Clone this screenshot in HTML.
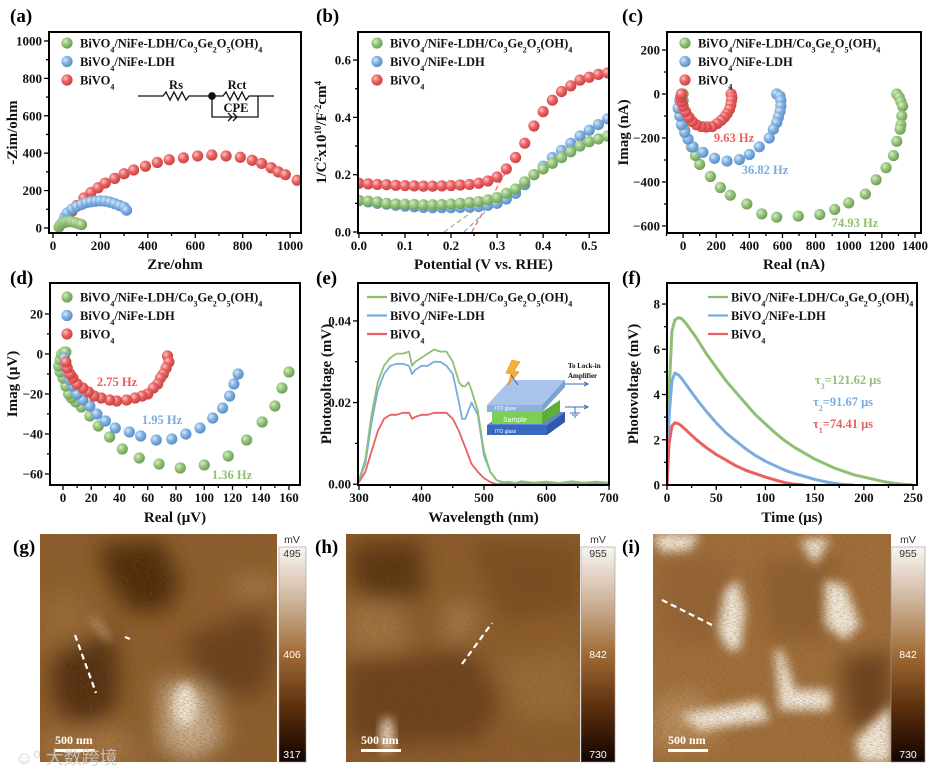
<!DOCTYPE html>
<html><head><meta charset="utf-8">
<style>
html,body{margin:0;padding:0;background:#fff;}
body{width:939px;height:773px;overflow:hidden;}
svg{display:block;font-family:"Liberation Serif",serif;}
.tk{font-size:13px;font-weight:bold;fill:#111;}
.ax{font-size:15px;font-weight:bold;fill:#111;}
.lg{font-size:12.5px;font-weight:bold;fill:#111;}
.pl{font-size:19px;font-weight:bold;fill:#000;}
.cb{font-family:"Liberation Sans",sans-serif;font-size:10.5px;}
</style></head>
<body>
<svg id="fig" width="939" height="773" viewBox="0 0 939 773">
<defs>
 <radialGradient id="gG" cx="35%" cy="35%" r="65%"><stop offset="0" stop-color="#d4ecc4"/><stop offset="0.5" stop-color="#97c47c"/><stop offset="1" stop-color="#6f9f58"/></radialGradient>
 <radialGradient id="gB" cx="35%" cy="35%" r="65%"><stop offset="0" stop-color="#d6e8fa"/><stop offset="0.5" stop-color="#82b2e2"/><stop offset="1" stop-color="#5b8fc6"/></radialGradient>
 <radialGradient id="gR" cx="35%" cy="35%" r="65%"><stop offset="0" stop-color="#fbc4c4"/><stop offset="0.5" stop-color="#ec6262"/><stop offset="1" stop-color="#c94444"/></radialGradient>
 <linearGradient id="cbar" x1="0" y1="0" x2="0" y2="1"><stop offset="0" stop-color="#f8f6f3"/><stop offset="0.25" stop-color="#cfb49a"/><stop offset="0.5" stop-color="#a06a34"/><stop offset="0.75" stop-color="#5a2e0c"/><stop offset="1" stop-color="#120300"/></linearGradient>
 <filter id="blur6" x="-30%" y="-30%" width="160%" height="160%"><feGaussianBlur stdDeviation="11"/></filter>
 <filter id="blur3" x="-30%" y="-30%" width="160%" height="160%"><feGaussianBlur stdDeviation="5"/></filter>
 <filter id="noise" x="0" y="0" width="100%" height="100%"><feTurbulence type="fractalNoise" baseFrequency="0.3 1.4" numOctaves="2" seed="4"/><feColorMatrix type="matrix" values="0 0 0 0 0.2  0 0 0 0 0.1  0 0 0 0 0  2.6 0 0 0 -1.1"/></filter>
 <clipPath id="cg"><rect x="40" y="534" width="237" height="228"/></clipPath>
 <clipPath id="ch"><rect x="346" y="534" width="234" height="228"/></clipPath>
 <clipPath id="ci"><rect x="653" y="534" width="238" height="228"/></clipPath>
</defs>
<g id="charts"></g>

<!-- circuit inset (a) -->
<g fill="none" stroke="#111" stroke-width="1.3">
 <path d="M138 96 H163 l3 -4 l4 8 l4 -8 l4 8 l4 -8 l4 8 l3 -4 H212 H223 l3 -4 l4 8 l4 -8 l4 8 l4 -8 l4 8 l3 -4 H274"/>
 <path d="M212 96 V117 H258 V96"/>
 <path d="M228 113 l4 4 l-4 4 M233 113 l4 4 l-4 4"/>
 <circle cx="212" cy="96" r="3.2" fill="#111"/>
 <text x="176" y="89" text-anchor="middle" class="lg" stroke="none" fill="#111" font-size="13">Rs</text>
 <text x="237" y="89" text-anchor="middle" class="lg" stroke="none" fill="#111" font-size="13">Rct</text>
 <text x="236" y="112" text-anchor="middle" class="lg" stroke="none" fill="#111" font-size="13">CPE</text>
</g>

<!-- SPV inset (e) -->
<g>
 <polygon points="487,425 505,412 565,412 547,425" fill="#5f86cf"/>
 <polygon points="487,425 547,425 547,435 487,435" fill="#3a68c0"/>
 <polygon points="547,425 565,412 565,422 547,435" fill="#2f58a8"/>
 <text x="495" y="433" font-family="Liberation Sans,sans-serif" font-size="5" fill="#fff">ITO glass</text>
 <polygon points="492,412 542,412 542,424 492,424" fill="#7ccf55"/>
 <polygon points="542,412 560,400 560,412 542,424" fill="#5fae3c"/>
 <text x="503" y="422" font-family="Liberation Sans,sans-serif" font-size="7" fill="#fff">Sample</text>
 <polygon points="487,405 510,380 565,380 542,405" fill="#9ab8e6" opacity="0.85"/>
 <polygon points="487,405 542,405 542,412 487,412" fill="#7ea8d8" opacity="0.9"/>
 <polygon points="542,405 565,380 565,387 542,412" fill="#6f96cc" opacity="0.9"/>
 <text x="495" y="410" font-family="Liberation Sans,sans-serif" font-size="5" fill="#fff">ITO glass</text>
 <polygon points="512,360 520,362 514,371 519,372 508,385 511,374 506,373" fill="#f4b13a" stroke="#e08a1a" stroke-width="0.6"/>
 <line x1="511" y1="375" x2="518" y2="385" stroke="#3a68c0" stroke-width="1"/>
 <path d="M565 384 H588 M584 382 L588 384 L584 386" stroke="#3a68c0" stroke-width="1" fill="none"/>
 <path d="M565 407 H588 M584 405 L588 407 L584 409 M575 407 V413 M570 413 H580 M572 415 H578 M574 417 H576" stroke="#3a68c0" stroke-width="1" fill="none"/>
 <text x="568" y="368" font-size="7" font-weight="bold" fill="#111">To Lock-in</text>
 <text x="568" y="378" font-size="7" font-weight="bold" fill="#111">Amplifier</text>
</g>

<!-- AFM (g) -->
<g>
 <g clip-path="url(#cg)">
  <rect x="40" y="534" width="237" height="228" fill="#8e5e33"/>
  <g filter="url(#blur6)">
   <polygon points="98,545 160,540 180,580 170,610 130,612 108,580" fill="#4e2c10"/>
   <polygon points="58,640 112,628 120,680 110,720 70,725 50,690" fill="#532f12"/>
   <polygon points="180,640 260,610 277,650 260,700 210,690" fill="#6a4020"/>
   <polygon points="40,600 80,590 95,640 40,650" fill="#9a6a3c"/>
   <polygon points="160,680 210,690 225,740 190,762 160,745" fill="#c9ad92"/>
   <polygon points="40,735 120,725 150,762 40,762" fill="#a57448"/>
   <rect x="235" y="580" width="40" height="12" fill="#b88c62"/>
  </g>
  <g filter="url(#blur3)">
   <ellipse cx="185" cy="705" rx="12" ry="22" fill="#efe6dc"/>
   <line x1="92" y1="618" x2="110" y2="640" stroke="#c7a482" stroke-width="6"/>
  </g>
  <rect x="40" y="534" width="237" height="228" filter="url(#noise)" opacity="0.45"/>
  <line x1="75" y1="635" x2="96" y2="693" stroke="#fff" stroke-width="2.2" stroke-dasharray="6,4"/>
  <line x1="125" y1="637" x2="130" y2="639" stroke="#fff" stroke-width="2"/>
  <text x="55" y="744" font-size="12" font-weight="bold" fill="#fff">500 nm</text>
  <rect x="55" y="749" width="40" height="3" fill="#fff"/>
 </g>
 <rect x="279" y="547" width="27" height="215" fill="url(#cbar)" stroke="#999" stroke-width="0.6"/>
 <text x="292" y="543" text-anchor="middle" class="cb" fill="#333">mV</text>
 <text x="292" y="557" text-anchor="middle" class="cb" fill="#333">495</text>
 <text x="292" y="658" text-anchor="middle" class="cb" fill="#fff">406</text>
 <text x="292" y="758" text-anchor="middle" class="cb" fill="#fff">317</text>
 <text x="13" y="553" class="pl">(g)</text>
 <text x="15" y="764" font-family="'Liberation Sans','Noto Sans CJK SC',sans-serif" font-size="18" fill="#ccc" opacity="0.85">☺⁰ 大数跨境</text>
</g>

<!-- AFM (h) -->
<g>
 <g clip-path="url(#ch)">
  <rect x="346" y="534" width="234" height="228" fill="#8c5c31"/>
  <g filter="url(#blur6)">
   <polygon points="350,545 420,540 425,595 390,600 355,595" fill="#5a3414"/>
   <polygon points="346,660 470,650 500,700 480,740 400,745 346,740" fill="#6c4120"/>
   <polygon points="470,540 580,545 580,610 500,620" fill="#7a4d28"/>
   <polygon points="346,600 400,605 410,650 346,655" fill="#a27246"/>
   <polygon points="500,660 580,650 580,720 520,720" fill="#9a6a3e"/>
   <polygon points="450,600 480,610 470,640 440,640" fill="#a77950"/>
  </g>
  <g filter="url(#blur3)">
   <ellipse cx="387" cy="735" rx="7" ry="18" fill="#ead9c6"/>
  </g>
  <rect x="346" y="534" width="234" height="228" filter="url(#noise)" opacity="0.45"/>
  <line x1="462" y1="664" x2="492" y2="623" stroke="#fff" stroke-width="2.2" stroke-dasharray="6,4"/>
  <text x="361" y="744" font-size="12" font-weight="bold" fill="#fff">500 nm</text>
  <rect x="361" y="749" width="40" height="3" fill="#fff"/>
 </g>
 <rect x="581" y="547" width="34" height="215" fill="url(#cbar)" stroke="#999" stroke-width="0.6"/>
 <text x="598" y="543" text-anchor="middle" class="cb" fill="#333">mV</text>
 <text x="598" y="557" text-anchor="middle" class="cb" fill="#333">955</text>
 <text x="598" y="658" text-anchor="middle" class="cb" fill="#fff">842</text>
 <text x="598" y="758" text-anchor="middle" class="cb" fill="#fff">730</text>
 <text x="315" y="553" class="pl">(h)</text>
</g>

<!-- AFM (i) -->
<g>
 <g clip-path="url(#ci)">
  <rect x="653" y="534" width="238" height="228" fill="#a06e40"/>
  <g filter="url(#blur6)">
   <polygon points="840,660 891,650 891,720 850,730" fill="#6a4020"/>
   <polygon points="660,560 730,560 740,620 700,650 660,630" fill="#94643a"/>
   <polygon points="760,560 840,560 830,640 770,640" fill="#8e5e34"/>
   <polygon points="653,700 700,690 720,740 653,750" fill="#b88c62"/>
  </g>
  <g filter="url(#blur3)" fill="#f3ebe2">
   <polygon points="725,590 738,580 745,610 740,650 728,650 718,630"/>
   <polygon points="825,580 845,585 860,625 845,640 825,625"/>
   <polygon points="775,650 782,650 795,690 830,690 830,710 780,710"/>
   <polygon points="680,715 760,700 770,720 700,730"/>
   <polygon points="855,740 891,705 891,762 860,762"/>
   <polygon points="653,534 700,534 690,550 660,552"/>
   <polygon points="800,540 830,538 815,565"/>
  </g>
  <rect x="653" y="534" width="238" height="228" filter="url(#noise)" opacity="0.4"/>
  <line x1="662" y1="600" x2="712" y2="625" stroke="#fff" stroke-width="2.2" stroke-dasharray="6,4"/>
  <text x="668" y="744" font-size="12" font-weight="bold" fill="#fff">500 nm</text>
  <rect x="668" y="749" width="40" height="3" fill="#fff"/>
 </g>
 <rect x="891" y="547" width="34" height="215" fill="url(#cbar)" stroke="#999" stroke-width="0.6"/>
 <text x="908" y="543" text-anchor="middle" class="cb" fill="#333">mV</text>
 <text x="908" y="557" text-anchor="middle" class="cb" fill="#333">955</text>
 <text x="908" y="658" text-anchor="middle" class="cb" fill="#fff">842</text>
 <text x="908" y="758" text-anchor="middle" class="cb" fill="#fff">730</text>
 <text x="622" y="553" class="pl">(i)</text>
</g>
</svg>

<script>
// ---------- data ----------
// (a) Nyquist
const aRedX=[60,80,100,130,160,190,220,260,300,340,390,440,490,550,610,670,730,790,840,880,920,950,980,1030];
const aRedY=[50,90,120,160,190,215,240,265,290,310,330,350,365,375,385,390,385,378,362,345,322,300,285,255];
const aBlueX=[40,50,60,80,100,120,140,160,180,200,220,240,260,280,300,310];
const aBlueY=[30,60,80,100,115,125,135,140,143,145,143,138,130,120,110,95];
const aGreenX=[25,30,40,50,60,70,80,95,110,120];
const aGreenY=[5,15,25,30,33,35,33,28,22,18];
// (b) Mott-Schottky
const bPot=[0,0.02,0.04,0.06,0.08,0.10,0.12,0.14,0.16,0.18,0.20,0.22,0.24,0.26,0.28,0.30,0.32,0.34,0.36,0.38,0.40,0.42,0.44,0.46,0.48,0.50,0.52,0.54];
const bRed=[0.17,0.168,0.166,0.165,0.163,0.162,0.161,0.160,0.160,0.161,0.162,0.164,0.166,0.170,0.178,0.192,0.22,0.26,0.31,0.37,0.42,0.46,0.49,0.51,0.53,0.54,0.55,0.555];
const bBlue=[0.11,0.105,0.10,0.097,0.093,0.09,0.088,0.086,0.085,0.085,0.085,0.086,0.087,0.089,0.093,0.10,0.115,0.135,0.165,0.20,0.23,0.26,0.285,0.31,0.335,0.355,0.375,0.395];
const bGreen=[0.11,0.108,0.105,0.10,0.098,0.097,0.096,0.095,0.095,0.096,0.098,0.10,0.103,0.106,0.112,0.12,0.135,0.15,0.175,0.20,0.22,0.24,0.26,0.28,0.30,0.315,0.325,0.335];
const bFitRed=[[0.245,0],[0.33,0.24]];
const bFitBlue=[[0.228,0],[0.30,0.11]];
const bFitGreen=[[0.185,0],[0.28,0.11]];
// (c) IMPS
const cRedX=[290,295,292,288,280,265,250,230,205,175,140,110,80,55,35,15,0,-10,-15,-10];
const cRedY=[0,-15,-30,-50,-70,-90,-105,-120,-135,-148,-150,-148,-140,-125,-105,-80,-55,-35,-15,0];
const cBlueX=[565,585,590,590,585,575,565,545,520,460,400,340,265,190,120,60,30,10,-10,-20,-30,-20,-10];
const cBlueY=[0,-10,-30,-55,-80,-105,-130,-160,-200,-240,-275,-298,-305,-292,-265,-240,-205,-175,-140,-100,-65,-30,0];
const cGreenX=[1290,1305,1315,1325,1320,1315,1310,1290,1270,1225,1165,1100,1000,915,825,695,565,475,385,285,225,165,100,75,50,30,10,0,-5,-5,0,0];
const cGreenY=[0,-15,-35,-55,-100,-140,-160,-215,-280,-335,-390,-455,-495,-525,-548,-555,-560,-545,-500,-460,-425,-375,-320,-280,-240,-205,-165,-130,-95,-60,-30,0];
// (d) IMVS
const dRedX=[74,75,73,71,69,67,64,60,56,51,45,38,33,27,22,18,14,10,7,5,3,2];
const dRedY=[-1,-4,-7,-10,-12,-15,-17,-20,-21,-22,-23,-23.5,-23,-22,-21,-19,-17,-15,-12,-10,-7,-4];
const dBlueX=[124,121,118,113,106,97,87,77,66,55,47,37,30,24,19,14,10,7,5,3,2,1];
const dBlueY=[-10,-15,-21,-27,-32,-37,-40,-42.5,-43,-41,-39,-37,-33.5,-30,-26,-23,-20,-16,-13,-9,-5,-2];
const dGreenX=[160,155,150,141,130,117,100,83,68,54,42,33,25,19,13,9,6,4,2,0,-2,-3,-2,-1,1,2];
const dGreenY=[-9,-17,-26,-34,-43,-51,-55.5,-57,-55,-52,-47.5,-41.5,-36,-31,-26.5,-24,-22,-20,-16,-12,-9,-6,-3,0,1,1];
// (e) SPV
const eWl=[300,310,320,330,340,350,360,370,380,385,390,400,410,420,430,440,450,460,465,470,475,480,490,500,510,520,530,540,550,560,580,600,620,640,660,680,700];
const eGreen=[0.001,0.006,0.017,0.025,0.029,0.031,0.032,0.032,0.0325,0.029,0.030,0.031,0.032,0.033,0.0325,0.0325,0.030,0.025,0.024,0.024,0.025,0.023,0.018,0.008,0.003,0.001,0.0005,0.0006,0.0003,0.0007,0.0004,0.0006,0.0003,0.0007,0.0004,0.0006,0.0004];
const eBlue=[0.001,0.005,0.015,0.023,0.027,0.029,0.0295,0.0295,0.029,0.027,0.028,0.029,0.029,0.030,0.030,0.029,0.027,0.020,0.016,0.016,0.018,0.020,0.017,0.007,0.003,0.001,0.0003,0.0004,0.0002,0.0005,0.0003,0.0004,0.0002,0.0004,0.0003,0.0004,0.0003];
const eRed=[0.0005,0.003,0.008,0.013,0.016,0.017,0.017,0.0175,0.0175,0.016,0.0165,0.017,0.017,0.0175,0.0175,0.0175,0.016,0.013,0.011,0.009,0.007,0.005,0.003,0.0015,0.0005,0,0,0,0,0,0,0,0,0,0,0,0];
// (f) TPV
const fT=[0,2,5,8,12,15,20,30,40,50,60,70,80,90,100,110,120,130,140,150,160,170,180,190,200,210,220,230,240,250];
const fGreen=[0,4,6.8,7.3,7.4,7.35,7.1,6.5,5.8,5.2,4.6,4.1,3.6,3.1,2.7,2.3,1.95,1.65,1.4,1.15,0.95,0.75,0.6,0.45,0.35,0.25,0.15,0.08,0.03,0];
const fBlue=[0,3,4.6,4.95,4.85,4.7,4.4,3.8,3.25,2.75,2.3,1.95,1.6,1.3,1.05,0.85,0.65,0.5,0.37,0.25,0.15,0.07,0.02,0,null,null,null,null,null,null];
const fRed=[0,1.8,2.6,2.75,2.7,2.6,2.4,2.0,1.65,1.35,1.1,0.85,0.65,0.5,0.35,0.22,0.1,0.03,0,null,null,null,null,null,null,null,null,null,null,null];
const legendNames=["BiVO<tspan baseline-shift='sub' font-size='8'>4</tspan>/NiFe-LDH/Co<tspan baseline-shift='sub' font-size='8'>3</tspan>Ge<tspan baseline-shift='sub' font-size='8'>2</tspan>O<tspan baseline-shift='sub' font-size='8'>5</tspan>(OH)<tspan baseline-shift='sub' font-size='8'>4</tspan>","BiVO<tspan baseline-shift='sub' font-size='8'>4</tspan>/NiFe-LDH","BiVO<tspan baseline-shift='sub' font-size='8'>4</tspan>"];

// ---------- drawing ----------
const NS='http://www.w3.org/2000/svg';
const root=document.getElementById('charts');
function mk(tag,attrs,parent){const e=document.createElementNS(NS,tag);for(const k in attrs)e.setAttribute(k,attrs[k]);(parent||root).appendChild(e);return e;}
const COL={g:'#8fbf73',b:'#79acdf',r:'#ea5f5f'};
const GRAD={g:'url(#gG)',b:'url(#gB)',r:'url(#gR)'};

function panel(p){
  const g=mk('g',{});
  
  
  p.g=g;
  p.sx=v=>p.L+(v-p.xmin)/(p.xmax-p.xmin)*(p.R-p.L);
  p.sy=v=>p.B-(v-p.ymin)/(p.ymax-p.ymin)*(p.B-p.T);
  for(let v=p.xMinorStart;v<=p.xMajEnd+1e-9;v+=p.xMinor){
    const x=p.sx(v); if(x<p.L-0.5||x>p.R+0.5)continue;
    const maj=Math.abs(Math.round((v-p.xMajStart)/p.xMaj)*p.xMaj-(v-p.xMajStart))<1e-9;
    mk('line',{x1:x,x2:x,y1:p.B,y2:p.B+(maj?5:3),stroke:'#000','stroke-width':1.3},g);
  }
  for(let v=p.xMajStart;v<=p.xMajEnd+1e-9;v+=p.xMaj){
    const t=mk('text',{x:p.sx(v),y:p.B+17,'text-anchor':'middle',class:'tk'},g);
    
    
    t.textContent=p.xf(v);
  }
  for(let v=p.yMinorStart;v<=p.yMajEnd+1e-9;v+=p.yMinor){
    const y=p.sy(v); if(y<p.T-0.5||y>p.B+0.5)continue;
    const maj=Math.abs(Math.round((v-p.yMajStart)/p.yMaj)*p.yMaj-(v-p.yMajStart))<1e-9;
    mk('line',{x1:p.L,x2:p.L-(maj?5:3),y1:y,y2:y,stroke:'#000','stroke-width':1.3},g);
  }
  for(let v=p.yMajStart;v<=p.yMajEnd+1e-9;v+=p.yMaj){
    const t=mk('text',{x:p.L-7,y:p.sy(v)+4.5,'text-anchor':'end',class:'tk'},g);
    
    
    t.textContent=p.yf(v);
  }
  const xt=mk('text',{x:(p.L+p.R)/2,y:p.xtY,'text-anchor':'middle',class:'ax'},g);
  
  
  xt.innerHTML=p.xt;
  const yt=mk('text',{x:0,y:0,'text-anchor':'middle',class:'ax',transform:`translate(${p.ytX},${(p.T+p.B)/2}) rotate(-90)`},g);
  
  
  yt.innerHTML=p.yt;
  const pl=mk('text',{x:p.plX,y:p.plY,class:'pl'},g);
  
  
  pl.textContent=p.pl;
  p.data=mk('g',{},g);
  const cp='clip'+p.pl.replace(/\W/g,'');
  const c=mk('clipPath',{id:cp},g); mk('rect',{x:p.L,y:p.T,width:p.R-p.L,height:p.B-p.T},c);
  p.data.setAttribute('clip-path',`url(#${cp})`);
  return p;
}
function frame(p){const f=mk('rect',{x:p.L,y:p.T,width:p.R-p.L,height:p.B-p.T,fill:'none',stroke:'#000','stroke-width':2},p.g);
  
  }
function dots(p,xs,ys,key,name){
  const s=mk('g',{},p.data);
  
  
  for(let i=0;i<xs.length;i++){
    const c=mk('circle',{cx:p.sx(xs[i]),cy:p.sy(ys[i]),r:5.6,fill:GRAD[key]},s);
    
    
  }
}
function line(p,xs,ys,key,name,w){
  let d='';
  for(let i=0;i<xs.length;i++){if(ys[i]===null||ys[i]===undefined)continue;d+=(d?'L':'M')+p.sx(xs[i]).toFixed(1)+' '+p.sy(ys[i]).toFixed(1);}
  const l=mk('path',{d:d,fill:'none',stroke:COL[key],'stroke-width':w||1.8,'stroke-linejoin':'round'},p.data);
  
  
}
function legend(p,x,y0,dy,mode){
  const keys=['g','b','r'];
  for(let i=0;i<3;i++){
    const y=y0+i*dy;
    const lg=mk('g',{},p.g);
    
    
    if(mode==='dot'){mk('circle',{cx:x,cy:y,r:5.6,fill:GRAD[keys[i]]},lg);}
    else{mk('line',{x1:x-10,x2:x+10,y1:y,y2:y,stroke:COL[keys[i]],'stroke-width':2.2},lg);}
    const t=mk('text',{x:x+13,y:y+4.5,class:'lg'},lg);
    t.innerHTML=legendNames[i];
  }
}
function label(p,x,y,txt,key,name){
  const t=mk('text',{x:x,y:y,'text-anchor':'middle',class:'lg',fill:COL[key]},p.g);
  
  
  t.style.fill=COL[key];
  t.innerHTML=txt;
}
const intf=v=>(Math.abs(v)<1e-9?'0':(v<0?'\u2212':'')+Math.round(Math.abs(v)));

// (a)
const pa=panel({name:'nyquist-chart',L:49,R:301,T:32,B:233,xmin:-17,xmax:1046,ymin:-27,ymax:1048,
 xMajStart:0,xMajEnd:1000,xMaj:200,xMinorStart:0,xMinor:100,yMajStart:0,yMajEnd:1000,yMaj:200,yMinorStart:0,yMinor:100,
 xf:intf,yf:intf,xt:'Zre/ohm',xtY:269,yt:'-Zim/ohm',ytX:17,pl:'(a)',plX:10,plY:22});
dots(pa,aRedX,aRedY,'r','series-bivo4');
dots(pa,aBlueX,aBlueY,'b','series-bivo4-nife');
dots(pa,aGreenX,aGreenY,'g','series-bivo4-nife-cgo');
frame(pa); legend(pa,67,43,18.5,'dot');

// (b)
const pb=panel({name:'mott-schottky-chart',L:358,R:609,T:32,B:233,xmin:-0.002,xmax:0.543,ymin:-0.0035,ymax:0.698,
 xMajStart:0,xMajEnd:0.5,xMaj:0.1,xMinorStart:0,xMinor:0.05,yMajStart:0,yMajEnd:0.6,yMaj:0.2,yMinorStart:0,yMinor:0.1,
 xf:v=>v.toFixed(1),yf:v=>v.toFixed(1),xt:'Potential (V vs. RHE)',xtY:269,
 yt:"1/C<tspan baseline-shift='super' font-size='9'>2</tspan>x10<tspan baseline-shift='super' font-size='9'>10</tspan>/F<tspan baseline-shift='super' font-size='9'>-2</tspan>cm<tspan baseline-shift='super' font-size='9'>4</tspan>",ytX:326,pl:'(b)',plX:316,plY:22});
[[bFitRed,'r'],[bFitBlue,'b'],[bFitGreen,'g']].forEach(([f,k])=>{
  const l=mk('line',{x1:pb.sx(f[0][0]),y1:pb.sy(f[0][1]),x2:pb.sx(f[1][0]),y2:pb.sy(f[1][1]),stroke:COL[k],'stroke-width':1.2,'stroke-dasharray':'5,3'},pb.data);
  
  
});
dots(pb,bPot,bRed,'r','series-bivo4');
dots(pb,bPot,bBlue,'b','series-bivo4-nife');
dots(pb,bPot,bGreen,'g','series-bivo4-nife-cgo');
frame(pb); legend(pb,377,43,18.5,'dot');

// (c)
const pc=panel({name:'imps-chart',L:667,R:921,T:32,B:233,xmin:-97,xmax:1436,ymin:-632,ymax:282,
 xMajStart:0,xMajEnd:1400,xMaj:200,xMinorStart:-100,xMinor:100,yMajStart:-600,yMajEnd:200,yMaj:200,yMinorStart:-600,yMinor:100,
 xf:intf,yf:intf,xt:'Real (nA)',xtY:269,yt:'Imag (nA)',ytX:628,pl:'(c)',plX:622,plY:22});
dots(pc,cGreenX,cGreenY,'g','series-bivo4-nife-cgo');
dots(pc,cBlueX,cBlueY,'b','series-bivo4-nife');
dots(pc,cRedX,cRedY,'r','series-bivo4');
frame(pc); legend(pc,685,43,18.5,'dot');
label(pc,734,142,'9.63 Hz','r','freq-label-bivo4');
label(pc,765,174,'36.82 Hz','b','freq-label-nife');
label(pc,855,227,'74.93 Hz','g','freq-label-cgo');

// (d)
const pd=panel({name:'imvs-chart',L:50,R:300,T:283,B:485,xmin:-9.2,xmax:167.8,ymin:-65.5,ymax:35.5,
 xMajStart:0,xMajEnd:160,xMaj:20,xMinorStart:0,xMinor:10,yMajStart:-60,yMajEnd:20,yMaj:20,yMinorStart:-60,yMinor:10,
 xf:intf,yf:intf,xt:'Real (\u03bcV)',xtY:522,yt:'Imag (\u03bcV)',ytX:17,pl:'(d)',plX:10,plY:284});
dots(pd,dGreenX,dGreenY,'g','series-bivo4-nife-cgo');
dots(pd,dBlueX,dBlueY,'b','series-bivo4-nife');
dots(pd,dRedX,dRedY,'r','series-bivo4');
frame(pd); legend(pd,67,297,18.5,'dot');
label(pd,117,386,'2.75 Hz','r','freq-label-bivo4');
label(pd,162,424,'1.95 Hz','b','freq-label-nife');
label(pd,232,479,'1.36 Hz','g','freq-label-cgo');

// (e)
const pe=panel({name:'spv-chart',L:358,R:609,T:283,B:485,xmin:298.4,xmax:700,ymin:-0.0002,ymax:0.0493,
 xMajStart:300,xMajEnd:700,xMaj:100,xMinorStart:300,xMinor:50,yMajStart:0,yMajEnd:0.04,yMaj:0.02,yMinorStart:0,yMinor:0.01,
 xf:v=>String(Math.round(v)),yf:v=>v.toFixed(2),xt:'Wavelength (nm)',xtY:522,yt:'Photovoltage (mV)',ytX:331,pl:'(e)',plX:316,plY:284});
line(pe,eWl,eRed,'r','series-bivo4');
line(pe,eWl,eBlue,'b','series-bivo4-nife');
line(pe,eWl,eGreen,'g','series-bivo4-nife-cgo');
frame(pe); legend(pe,377,297,18.5,'line');

// (f)
const pf=panel({name:'tpv-chart',L:667,R:917,T:283,B:485,xmin:0,xmax:254,ymin:0,ymax:8.93,
 xMajStart:0,xMajEnd:250,xMaj:50,xMinorStart:0,xMinor:25,yMajStart:0,yMajEnd:8,yMaj:2,yMinorStart:0,yMinor:1,
 xf:intf,yf:intf,xt:'Time (\u03bcs)',xtY:522,yt:'Photovoltage (mV)',ytX:638,pl:'(f)',plX:622,plY:284});
line(pf,fT,fGreen,'g','series-bivo4-nife-cgo',3);
line(pf,fT,fBlue,'b','series-bivo4-nife',3);
line(pf,fT,fRed,'r','series-bivo4',3);
frame(pf); legend(pf,718,297,18.5,'line');
label(pf,848,384,"\u03c4<tspan baseline-shift='sub' font-size='8'>3</tspan>=121.62 \u03bcs",'g','tau-label-cgo');
label(pf,843,406,"\u03c4<tspan baseline-shift='sub' font-size='8'>2</tspan>=91.67 \u03bcs",'b','tau-label-nife');
label(pf,843,428,"\u03c4<tspan baseline-shift='sub' font-size='8'>1</tspan>=74.41 \u03bcs",'r','tau-label-bivo4');
</script>
</body></html>
